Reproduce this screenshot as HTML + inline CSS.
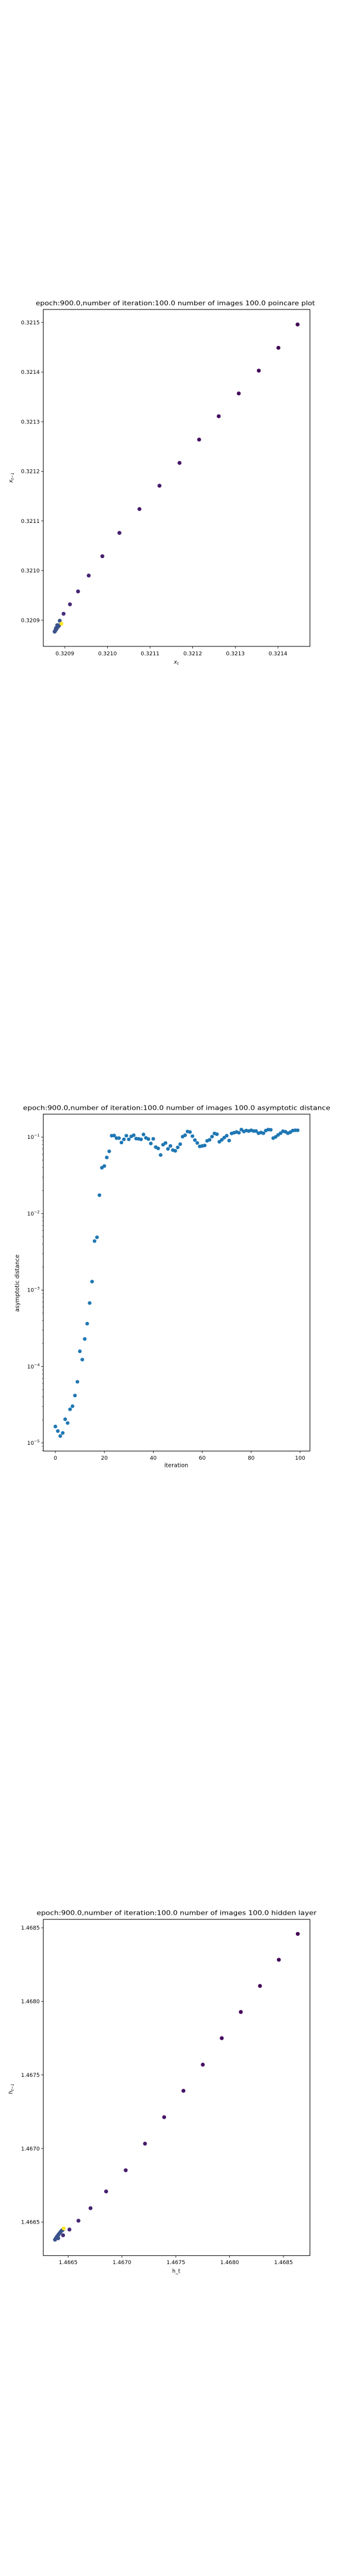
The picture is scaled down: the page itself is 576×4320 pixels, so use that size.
<!DOCTYPE html>
<html><head><meta charset="utf-8">
<style>
html,body{margin:0;padding:0;background:#fff;}
svg{display:block;font-family:"DejaVu Sans","Liberation Sans",sans-serif;}
</style></head>
<body>
<svg id="fig" width="576" height="4320" viewBox="0 0 576 4320" xmlns="http://www.w3.org/2000/svg">
<rect x="0" y="0" width="576" height="4320" fill="#fff"/>
</svg>
<script>
// ---- Chart 1: poincare plot ----
const c1X = [0.321446,0.321401,0.321355,0.321308,0.321261,0.321215,0.321169,0.321122,0.321075,0.321028,0.320988,0.320956,0.320931,0.320912,0.320897,0.320888,0.320882,0.320879,0.320878,0.320877,0.320876,0.320880,0.320883,0.320885,0.320879,0.320881,0.320884,0.320886,0.320887,0.320892];
const c1Y = [0.321496,0.321449,0.321403,0.321357,0.321311,0.321264,0.321217,0.321171,0.321124,0.321076,0.321029,0.320990,0.320958,0.320932,0.320913,0.320899,0.320890,0.320884,0.320880,0.320878,0.320877,0.320882,0.320886,0.320888,0.320881,0.320884,0.320887,0.320889,0.320890,0.320893];
const c1XTicks = [0.3209,0.3210,0.3211,0.3212,0.3213,0.3214];
const c1YTicks = [0.3209,0.3210,0.3211,0.3212,0.3213,0.3214,0.3215];
// ---- Chart 2: asymptotic distance ----
const c2Iter = Array.from({length:100},(_, i)=>i);
const c2Dist = [1.64e-5,1.43e-5,1.23e-5,1.35e-5,2.04e-5,1.82e-5,2.75e-5,3.02e-5,4.17e-5,6.3e-5,1.58e-4,1.23e-4,2.29e-4,3.63e-4,6.76e-4,1.29e-3,4.37e-3,4.9e-3,1.74e-2,0.0398,0.0419,0.0542,0.0652,
0.1045,0.105,0.0971,0.0971,0.085,0.0936,0.1045,0.0936,0.1022,0.106,0.0957,0.095,0.0936,0.1084,0.0978,0.0943,0.0826,0.095,0.074,0.0712,0.0584,0.0796,0.0838,0.0702,0.0767,0.0677,0.0662,0.0734,0.0808,0.1015,0.106,0.1185,0.1167,0.103,0.0915,0.0838,0.0756,0.0767,0.0778,0.0895,0.0922,0.1015,0.1117,0.1092,0.0869,0.0922,0.0985,0.1045,0.0902,0.1117,0.1142,0.1167,0.1142,0.1256,0.1185,0.122,0.1202,0.1229,0.1202,0.1202,0.1125,0.115,0.1125,0.122,0.1256,0.1247,0.0971,0.1007,0.1068,0.1125,0.1194,0.1176,0.1125,0.1159,0.122,0.1229,0.1229];
const c2XTicks = [0,20,40,60,80,100];
const c2YExp = [-5,-4,-3,-2,-1];
// ---- Chart 3: hidden layer ----
const c3X = [1.468633,1.468457,1.468282,1.468104,1.467927,1.467751,1.467571,1.467392,1.467214,1.467035,1.466853,1.466708,1.466596,1.466512,1.466453,1.466378,1.466385,1.466392,1.466400,1.466408,1.466416,1.466425,1.466433,1.466441,1.466449,1.466408,1.466459];
const c3Y = [1.468459,1.468283,1.468105,1.467928,1.467750,1.467570,1.467392,1.467213,1.467033,1.466852,1.466708,1.466594,1.466509,1.466449,1.466410,1.466380,1.466388,1.466396,1.466404,1.466412,1.466420,1.466428,1.466436,1.466442,1.466446,1.466390,1.466457];
const c3XTicks = [1.4665,1.4670,1.4675,1.4680,1.4685];
const c3YTicks = [1.4665,1.4670,1.4675,1.4680,1.4685];

const NS = "http://www.w3.org/2000/svg";
const fig = document.getElementById('fig');
function mk(tag, attrs, parent){
  const e = document.createElementNS(NS, tag);
  for (const k in attrs) e.setAttribute(k, attrs[k]);
  (parent||fig).appendChild(e);
  return e;
}
function lin(d0,d1,r0,r1){ return v => r0 + (v-d0)/(d1-d0)*(r1-r0); }
function scatterColors(n){
  const cols=[];
  for(let i=0;i<n;i++){
    if(i===n-1) cols.push('#fde725');
    else if(i<15){ const t=i/14; const r=Math.round(0x44+(0x47-0x44)*t), g=Math.round(0x01+(0x2c-0x01)*t), b=Math.round(0x54+(0x7a-0x54)*t); cols.push('rgb('+r+','+g+','+b+')'); }
    else cols.push('#3b528b');
  }
  return cols;
}

function frame(g, box){
  const r = mk('rect',{x:box.l,y:box.t,width:box.r-box.l,height:box.b-box.t,fill:'none',stroke:'#000','stroke-width':1},g);
  
  
}
function title(g, txt, x, y, len){
  const t = mk('text',{x:x,y:y,'font-size':11,'text-anchor':'start',textLength:len,lengthAdjust:'spacingAndGlyphs'},g);
  t.textContent = txt;
  
  
}
function xTicks(g, ticks, sx, box, fmt, labY){
  ticks.forEach(v=>{
    const x = sx(v);
    const l = mk('line',{x1:x,x2:x,y1:box.b,y2:box.b+3.5,stroke:'#000','stroke-width':0.8},g);
    
    
    const t = mk('text',{x:x,y:labY,'font-size':9,'text-anchor':'middle'},g);
    t.textContent = fmt(v);
    
    
  });
}
function yTicks(g, ticks, sy, box, fmt){
  ticks.forEach(v=>{
    const y = sy(v);
    const l = mk('line',{x1:box.l-3.5,x2:box.l,y1:y,y2:y,stroke:'#000','stroke-width':0.8},g);
    
    
    const t = mk('text',{x:box.l-6,y:y+3.2,'font-size':9,'text-anchor':'end'},g);
    t.textContent = fmt(v);
    
    
  });
}
function axisLabel(g, txt, x, y, rot, name, size){
  const t = mk('text',{x:x,y:y,'font-size':size||9,'text-anchor':'middle','dominant-baseline':'middle',transform:rot?('rotate(-90 '+x+' '+y+')'):''},g);
  t.textContent = txt;
  
  
  return t;
}

// ===== Chart 1 =====
{
  const g = mk('g',{});
  
  
  const box = {l:72.7,r:520.5,t:519,b:1084};
  const sx = lin(0.3209,0.3214,108.9,466.8);
  const sy = lin(0.3209,0.3215,1040.1,540.8);
  title(g,'epoch:900.0,number of iteration:100.0 number of images 100.0 poincare plot',60,512,469);
  frame(g,box);
  xTicks(g,c1XTicks,sx,box,v=>v.toFixed(4),1099);
  yTicks(g,c1YTicks,sy,box,v=>v.toFixed(4));
  const cols = scatterColors(c1X.length);
  c1X.forEach((v,i)=>{
    const c = mk('circle',{cx:sx(v),cy:sy(c1Y[i]),r:3.3,fill:cols[i]},g);
    
    
  });
  const yl = mk('text',{x:0,y:0,'font-size':9,'text-anchor':'middle',transform:'translate(21 801) rotate(-90)','font-style':'italic'},g);
  yl.innerHTML = 'x<tspan font-size="6.5" dy="2">t−1</tspan>';
  
  
  const xl = mk('text',{x:296,y:1113,'font-size':9,'text-anchor':'middle','font-style':'italic'},g);
  xl.innerHTML = 'x<tspan font-size="6.5" dy="2">t</tspan>';
  
  
}

// ===== Chart 2 =====
{
  const g = mk('g',{});
  
  
  const box = {l:72.7,r:520.5,t:1868.4,b:2433.4};
  const sx = lin(0,100,93,504);
  const ly = lin(-1,-5,1907,2419.8);
  const sy = v => ly(Math.log10(v));
  title(g,'epoch:900.0,number of iteration:100.0  number of images 100.0 asymptotic distance',38.7,1861.5,516);
  frame(g,box);
  xTicks(g,c2XTicks,sx,box,v=>String(v),2448);
  // major y ticks
  c2YExp.forEach(e=>{
    const y = ly(e);
    const l = mk('line',{x1:box.l-3.5,x2:box.l,y1:y,y2:y,stroke:'#000','stroke-width':0.8},g);
    
    
    const t = mk('text',{x:box.l-6,y:y+3.2,'font-size':9,'text-anchor':'end'},g);
    t.innerHTML = '10<tspan font-size="6.5" dy="-4">−'+(-e)+'</tspan>';
    
    
  });
  // minor ticks
  for(let e=-6;e<=-1;e++){
    for(let m=2;m<=9;m++){
      const lv = e+Math.log10(m);
      if(lv>-0.699||lv<-5.106) continue;
      const y = ly(lv);
      const l = mk('line',{x1:box.l-2,x2:box.l,y1:y,y2:y,stroke:'#000','stroke-width':0.6},g);
      
      
    }
  }
  c2Iter.forEach((it,i)=>{
    const c = mk('circle',{cx:sx(it),cy:sy(c2Dist[i]),r:3.1,fill:'#1f77b4'},g);
    
    
  });
  axisLabel(g,'asymptotic distance',29.5,2152,true,'y-axis-title',9.5);
  axisLabel(g,'iteration',296,2458,false,'x-axis-title',9.5);
}

// ===== Chart 3 =====
{
  const g = mk('g',{});
  
  
  const box = {l:72.7,r:520.5,t:3218.8,b:3782.7};
  const sx = lin(1.4665,1.4685,114.4,476);
  const sy = lin(1.4665,1.4685,3726.4,3233);
  title(g,'epoch:900.0,number of iteration:100.0  number of images 100.0 hidden layer',61.5,3211.5,470);
  frame(g,box);
  xTicks(g,c3XTicks,sx,box,v=>v.toFixed(4),3797);
  yTicks(g,c3YTicks,sy,box,v=>v.toFixed(4));
  const cols = scatterColors(c3X.length);
  c3X.forEach((v,i)=>{
    const c = mk('circle',{cx:sx(v),cy:sy(c3Y[i]),r:3.3,fill:cols[i]},g);
    
    
  });
  const yl = mk('text',{x:0,y:0,'font-size':9,'text-anchor':'middle',transform:'translate(21 3503) rotate(-90)','font-style':'italic'},g);
  yl.innerHTML = 'h<tspan font-size="6.5" dy="2">t−1</tspan>';
  
  
  axisLabel(g,'h_t',296,3809,false,'x-axis-title',9);
}
</script>
</body></html>
